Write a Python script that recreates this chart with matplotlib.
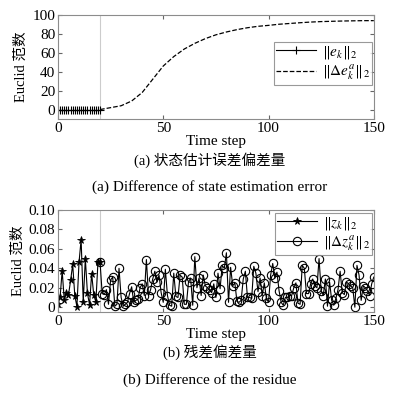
import numpy as np
import matplotlib
matplotlib.use("Agg")
import matplotlib.pyplot as plt

plt.rcParams['font.family'] = ['Liberation Serif', 'Noto Sans CJK SC']
plt.rcParams['mathtext.fontset'] = 'stix'

# (a) state estimation error
e_steps = list(range(0, 21))
e_vals = [0] * 21
de_steps = [20, 25, 30, 35, 40, 45, 50, 55, 60, 65, 70, 75, 80, 85, 90, 95,
            100, 105, 110, 115, 120, 125, 130, 135, 140, 145, 150]
de_vals = [0, 2, 4, 9, 18, 32, 46, 56, 64, 70, 75, 79, 82, 84.5, 86.5, 88,
           89, 90.2, 91, 91.8, 92.5, 93, 93.3, 93.6, 93.8, 94, 94]

# (b) residue
z_steps = list(range(0, 21))
z_vals = [0.0036, 0.0100, 0.0375, 0.0071, 0.0150, 0.0125, 0.0275, 0.0440,
          0.0118, 0.0007, 0.0461, 0.0696, 0.0054, 0.0500, 0.0143, 0.0025,
          0.0346, 0.0125, 0.0054, 0.0464, 0.0460]
dz_steps = list(range(20, 151))
dz_vals = [0.046, 0.014, 0.013, 0.018, 0.003, 0.028, 0.031, 0.001, 0.003, 0.040,
           0.010, 0.001, 0.003, 0.005, 0.014, 0.021, 0.005, 0.007, 0.008, 0.020,
           0.024, 0.012, 0.049, 0.012, 0.018, 0.029, 0.037, 0.026, 0.033, 0.015,
           0.005, 0.039, 0.012, 0.002, 0.001, 0.035, 0.011, 0.010, 0.033, 0.031,
           0.003, 0.003, 0.026, 0.030, 0.002, 0.052, 0.020, 0.030, 0.012, 0.033,
           0.022, 0.020, 0.018, 0.015, 0.024, 0.010, 0.035, 0.019, 0.043, 0.040,
           0.056, 0.005, 0.041, 0.022, 0.025, 0.006, 0.005, 0.007, 0.029, 0.037,
           0.010, 0.010, 0.009, 0.042, 0.035, 0.016, 0.030, 0.012, 0.025, 0.009,
           0.005, 0.033, 0.045, 0.030, 0.036, 0.017, 0.005, 0.002, 0.010, 0.010,
           0.012, 0.012, 0.020, 0.025, 0.004, 0.003, 0.043, 0.040, 0.014, 0.014,
           0.024, 0.029, 0.022, 0.020, 0.050, 0.017, 0.012, 0.029, 0.001, 0.026,
           0.007, 0.002, 0.009, 0.018, 0.037, 0.015, 0.013, 0.026, 0.024, 0.022,
           0.020, 0.000, 0.043, 0.033, 0.007, 0.022, 0.020, 0.017, 0.012, 0.024,
           0.031]

fig = plt.figure(figsize=(4.2, 3.94), dpi=100)
ax1 = fig.add_axes([0.138, 0.698, 0.752, 0.264])
ax2 = fig.add_axes([0.138, 0.208, 0.752, 0.259])

def style(ax):
    ax.tick_params(direction='in', top=True, right=True, labelsize=11, length=3,
                   color='0.4', pad=2)
    for s in ax.spines.values():
        s.set_color('0.55')
        s.set_linewidth(0.8)
    ax.set_xlim(0, 150)
    ax.set_xticks([0, 50, 100, 150])
    ax.axvline(20, color='0.8', lw=0.8, zorder=0)
    ax.set_xlabel("Time step", fontsize=11, labelpad=0)
    ax.set_ylabel("Euclid 范数", fontsize=10.5, labelpad=3)

ax1.plot(e_steps, e_vals, color='k', lw=0.8, marker='+', ms=6, mew=0.8,
         label=r'$\|e_k\|_2$')
ax1.plot(de_steps, de_vals, color='k', lw=0.9, ls='--', label=r'$\|\Delta e_k^a\|_2$')
ax1.set_ylim(-10, 100)
ax1.set_yticks([0, 20, 40, 60, 80, 100])
style(ax1)
leg = ax1.legend(loc='upper right', bbox_to_anchor=(0.995, 0.74), fontsize=11,
                 fancybox=False, edgecolor='0.5', handlelength=2.6,
                 borderpad=0.15, labelspacing=0.1, handletextpad=0.4, borderaxespad=0)
leg.get_frame().set_linewidth(0.8)

ax2.plot(z_steps, z_vals, color='k', lw=0.8, marker='*', ms=5.5, mew=0.6,
         label=r'$\|z_k\|_2$')
ax2.plot(dz_steps, dz_vals, color='k', lw=0.8, marker='o', ms=6, mew=0.8,
         mfc='none', label=r'$\|\Delta z_k^a\|_2$')
ax2.set_ylim(-0.005, 0.1)
ax2.set_yticks([0, 0.02, 0.04, 0.06, 0.08, 0.10])
ax2.set_yticklabels(['0', '0.02', '0.04', '0.06', '0.08', '0.10'])
style(ax2)
leg2 = ax2.legend(loc='upper right', bbox_to_anchor=(0.995, 0.975), fontsize=11,
                  fancybox=False, edgecolor='0.5', handlelength=2.6,
                  borderpad=0.15, labelspacing=0.1, handletextpad=0.4, borderaxespad=0)
leg2.get_frame().set_linewidth(0.8)

fig.text(0.5, 1 - 160 / 394, "(a) 状态估计误差偏差量", ha='center', va='center', fontsize=10.5)
fig.text(0.5, 1 - 187 / 394, "(a) Difference of state estimation error", ha='center',
         va='center', fontsize=11)
fig.text(0.5, 1 - 352 / 394, "(b) 残差偏差量", ha='center', va='center', fontsize=10.5)
fig.text(0.5, 1 - 380 / 394, "(b) Difference of the residue", ha='center',
         va='center', fontsize=11)

fig.savefig("out.png", dpi=100)
